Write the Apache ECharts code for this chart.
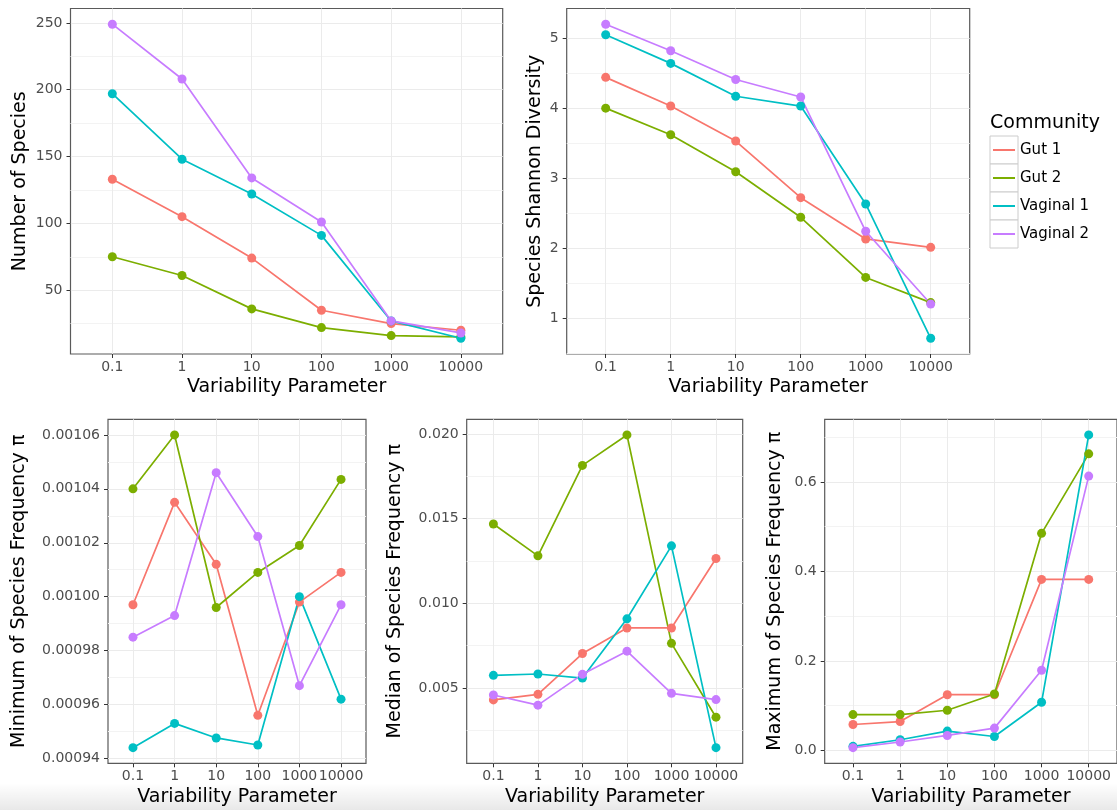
<!DOCTYPE html>
<html><head><meta charset="utf-8">
<script src="https://cdn.jsdelivr.net/npm/echarts@6/dist/echarts.min.js"></script>
<style>html,body{margin:0;padding:0;background:#fff}#c{width:1117px;height:810px}</style>
</head><body><div id="c"></div>
<script>
const categories = ['0.1', '1', '10', '100', '1000', '10000'];
const communities = ['Gut 1', 'Gut 2', 'Vaginal 1', 'Vaginal 2'];
const colors = ['#F8766D', '#7CAE00', '#00BFC4', '#C77CFF'];

// rows: Gut 1, Gut 2, Vaginal 1, Vaginal 2
const numSpecies = [
  [133, 105, 74, 35, 25, 20],
  [75, 61, 36, 22, 16, 15],
  [197, 148, 122, 91, 27, 14],
  [249, 208, 134, 101, 27, 18]
];
const shannon = [
  [4.44, 4.03, 3.53, 2.72, 2.13, 2.01],
  [4.00, 3.62, 3.09, 2.44, 1.58, 1.22],
  [5.05, 4.64, 4.17, 4.03, 2.63, 0.71],
  [5.20, 4.82, 4.41, 4.16, 2.24, 1.20]
];
const minFreq = [
  [0.000997, 0.001035, 0.001012, 0.000956, 0.000998, 0.001009],
  [0.001040, 0.001060, 0.000996, 0.001009, 0.001019, 0.0010435],
  [0.000944, 0.000953, 0.0009476, 0.000945, 0.001000, 0.000962],
  [0.000985, 0.000993, 0.001046, 0.0010223, 0.000967, 0.000997]
];
const medianFreq = [
  [0.00429, 0.00462, 0.00703, 0.00854, 0.00854, 0.01264],
  [0.01468, 0.01280, 0.01814, 0.01994, 0.00763, 0.00327],
  [0.00574, 0.00582, 0.00558, 0.00908, 0.01339, 0.00147],
  [0.00458, 0.00398, 0.00580, 0.00717, 0.00468, 0.00431]
];
const maxFreq = [
  [0.0578, 0.0644, 0.1244, 0.1244, 0.3822, 0.3822],
  [0.0800, 0.0800, 0.0897, 0.1260, 0.4853, 0.6630],
  [0.0089, 0.0237, 0.0430, 0.0310, 0.1075, 0.7053],
  [0.0060, 0.0186, 0.0333, 0.0497, 0.1790, 0.6133]
];

const ticksNum = [50, 100, 150, 200, 250];
const ticksShannon = [1, 2, 3, 4, 5];
const ticksMin = [0.00094, 0.00096, 0.00098, 0.00100, 0.00102, 0.00104, 0.00106];
const ticksMedian = [0.005, 0.010, 0.015, 0.020];
const ticksMax = [0.0, 0.2, 0.4, 0.6];

const FONT = 'DejaVu Sans';
const panels = [
  {data: numSpecies, ticks: ticksNum, dec: 0, name: 'Number of Species', grid: {left: 70.5, top: 8.5, width: 432.2, height: 345.5}, nameGap: 41},
  {data: shannon, ticks: ticksShannon, dec: 0, name: 'Species Shannon Diversity', grid: {left: 566.7, top: 8.5, width: 403, height: 345.5}, nameGap: 22},
  {data: minFreq, ticks: ticksMin, dec: 5, name: 'Minimum of Species Frequency \u03c0', grid: {left: 108, top: 419.3, width: 258, height: 344}, nameGap: 79},
  {data: medianFreq, ticks: ticksMedian, dec: 3, name: 'Median of Species Frequency \u03c0', grid: {left: 466.7, top: 419.3, width: 276, height: 344}, nameGap: 62},
  {data: maxFreq, ticks: ticksMax, dec: 1, name: 'Maximum of Species Frequency \u03c0', grid: {left: 824.7, top: 419.3, width: 295.6, height: 344}, nameGap: 40}
];

const catPos = categories.map((_, i) => i);
const grids = [], xAxes = [], yAxes = [], yMinor = [], series = [];

panels.forEach((p, pi) => {
  const all = p.data.flat();
  const lo = Math.min(...all), hi = Math.max(...all);
  const pad = (hi - lo) * 0.05;
  const ymin = lo - pad, ymax = hi + pad;
  const step = p.ticks[1] - p.ticks[0];
  const minor = [p.ticks[0] - step / 2].concat(p.ticks.map(t => t + step / 2)).filter(v => v > ymin && v < ymax);

  grids.push(Object.assign({show: true, borderColor: '#5a5a5a', borderWidth: 1.2, backgroundColor: 'transparent', containLabel: false}, p.grid));
  xAxes.push({
    type: 'value', gridIndex: pi, min: -0.6, max: categories.length - 0.4, position: 'bottom',
    axisLine: {show: false, onZero: false},
    axisTick: {show: true, customValues: catPos, length: 4, lineStyle: {color: '#333', width: 1}},
    axisLabel: {customValues: catPos, formatter: v => categories[Math.round(v)], color: '#4d4d4d', fontSize: 14, margin: 6, fontFamily: FONT},
    splitLine: {show: true, lineStyle: {color: '#ebebeb', width: 1}},
    name: 'Variability Parameter', nameLocation: 'middle', nameGap: 24,
    nameTextStyle: {fontSize: 19, color: '#000', fontFamily: FONT}
  });
  yAxes.push({
    type: 'value', gridIndex: pi, min: ymin, max: ymax, position: 'left',
    axisLine: {show: false, onZero: false},
    axisTick: {show: true, customValues: p.ticks, length: 4, lineStyle: {color: '#333', width: 1}},
    axisLabel: {customValues: p.ticks, formatter: v => v.toFixed(p.dec), color: '#4d4d4d', fontSize: 14, margin: 8, fontFamily: FONT},
    splitLine: {show: true, lineStyle: {color: '#ebebeb', width: 1}},
    name: p.name, nameLocation: 'middle', nameGap: p.nameGap, nameRotate: 90,
    nameTextStyle: {fontSize: 19, color: '#000', fontFamily: FONT}
  });
  yMinor.push({
    type: 'value', gridIndex: pi, min: ymin, max: ymax, position: 'left',
    axisLine: {show: false, onZero: false},
    axisTick: {show: false, customValues: minor},
    axisLabel: {show: false, customValues: minor},
    splitLine: {show: true, lineStyle: {color: '#f3f3f3', width: 1}}
  });
  p.data.forEach((vals, ci) => {
    series.push({
      type: 'line', name: communities[ci], xAxisIndex: pi, yAxisIndex: pi,
      data: vals.map((v, i) => [catPos[i], v]),
      symbol: 'circle', symbolSize: 9, showSymbol: true,
      lineStyle: {width: 1.7, color: colors[ci]},
      itemStyle: {color: colors[ci]},
      emphasis: {disabled: true}, silent: true
    });
  });
});

const legendBoxes = communities.map((c, i) => ({
  type: 'rect', shape: {x: 990, y: 136 + 28 * i, width: 28, height: 28},
  style: {fill: '#fff', stroke: '#cccccc', lineWidth: 1}, z: 0, silent: true
}));

const chart = echarts.init(document.getElementById('c'), null, {renderer: 'canvas'});
chart.setOption({
  animation: false,
  backgroundColor: '#fff',
  textStyle: {fontFamily: FONT},
  color: colors,
  title: {text: 'Community', left: 990, top: 114, padding: 0,
    textStyle: {fontSize: 19, fontWeight: 'normal', color: '#000', fontFamily: FONT}},
  legend: {data: communities, orient: 'vertical', left: 993, top: 136, padding: 0,
    itemWidth: 22, itemHeight: 2, itemGap: 0, icon: 'rect', selectedMode: false, z: 5,
    textStyle: {fontSize: 15, color: '#000', lineHeight: 28, fontFamily: FONT}},
  grid: grids,
  xAxis: xAxes,
  yAxis: yAxes.concat(yMinor),
  series: series,
  graphic: legendBoxes.concat([{
    type: 'rect', shape: {x: 0, y: 783, width: 1117, height: 27}, silent: true, z: -10,
    style: {fill: new echarts.graphic.LinearGradient(0, 0, 0, 1, [
      {offset: 0, color: 'rgba(0,0,0,0)'}, {offset: 1, color: 'rgba(0,0,0,0.09)'}])}
  }])
});
</script>
</body></html>
